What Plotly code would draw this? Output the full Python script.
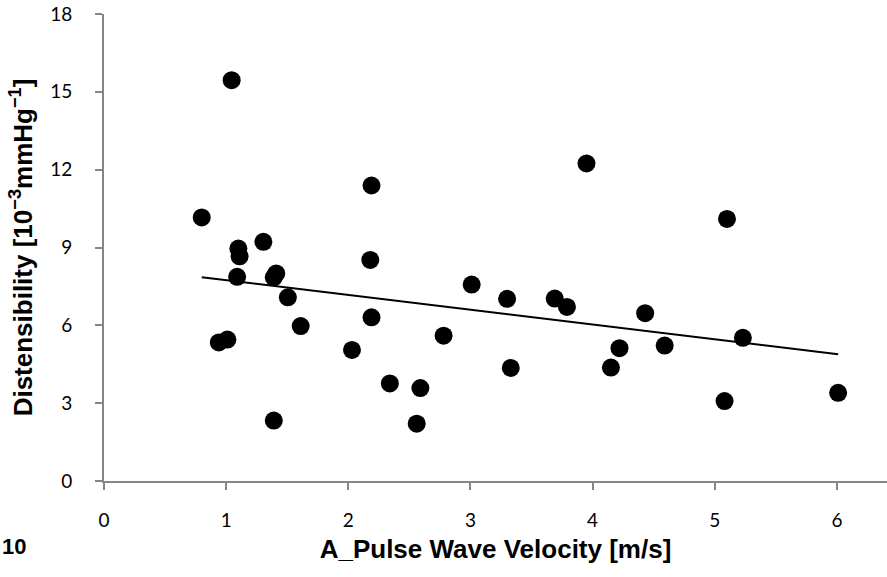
import numpy as np
import plotly.graph_objects as go

pwv = [0.80, 1.045, 0.94, 1.01, 1.10, 1.11, 1.09, 1.305, 1.39, 1.41, 1.39, 1.505,
       1.61, 2.03, 2.19, 2.18, 2.19, 2.34, 2.56, 2.59, 2.78, 3.01, 3.30, 3.33,
       3.69, 3.79, 3.95, 4.15, 4.22, 4.43, 4.59, 5.08, 5.10, 5.23, 6.01]
dist = [10.16, 15.45, 5.34, 5.45, 8.96, 8.66, 7.87, 9.22, 7.85, 8.00, 2.33, 7.08,
        5.97, 5.05, 11.39, 8.52, 6.31, 3.76, 2.21, 3.58, 5.60, 7.57, 7.02, 4.36,
        7.03, 6.71, 12.24, 4.37, 5.12, 6.47, 5.22, 3.08, 10.10, 5.52, 3.40]
x_ticks = [0, 1, 2, 3, 4, 5, 6]
y_ticks = [0, 3, 6, 9, 12, 15, 18]

slope, intercept = np.polyfit(pwv, dist, 1)
tx = np.array([min(pwv), max(pwv)])
ty = slope * tx + intercept

fig = go.Figure()
fig.add_trace(go.Scatter(x=tx, y=ty, mode="lines",
                         line=dict(color="black", width=2), hoverinfo="skip"))
fig.add_trace(go.Scatter(x=pwv, y=dist, mode="markers",
                         marker=dict(color="black", size=18, line=dict(width=0))))

axis_common = dict(showgrid=False, zeroline=False, showline=True,
                   linecolor="#868686", linewidth=2, ticks="outside",
                   ticklen=7, tickwidth=2, tickcolor="#868686",
                   tickfont=dict(family="Lato, Carlito, Arial", size=19, color="black"))

fig.update_layout(
    width=887, height=577,
    margin=dict(l=104, r=0, t=14, b=96),
    plot_bgcolor="white", paper_bgcolor="white",
    showlegend=False,
    xaxis=dict(range=[0, 6.41], tickvals=x_ticks, ticktext=[str(v) for v in x_ticks],
               ticklabelstandoff=14,
               title=dict(text="A_Pulse Wave Velocity [m/s]", standoff=10,
                          font=dict(family="Liberation Sans, Arial", size=26,
                                    color="black", weight="bold")),
               **axis_common),
    yaxis=dict(range=[0, 18], tickvals=y_ticks, ticktext=[str(v) for v in y_ticks],
               ticklabelstandoff=19,
               title=dict(text="Distensibility [10<sup>−3</sup>mmHg<sup>−1</sup>]", standoff=10,
                          font=dict(family="Liberation Sans, Arial", size=26,
                                    color="black", weight="bold")),
               **axis_common),
)
fig.add_annotation(text="<b>10</b>", xref="paper", yref="paper", x=-0.133, y=-0.14,
                   xanchor="left", yanchor="middle", showarrow=False,
                   font=dict(family="Liberation Sans, Arial", size=22, color="black"))

fig.write_html("out.html")
